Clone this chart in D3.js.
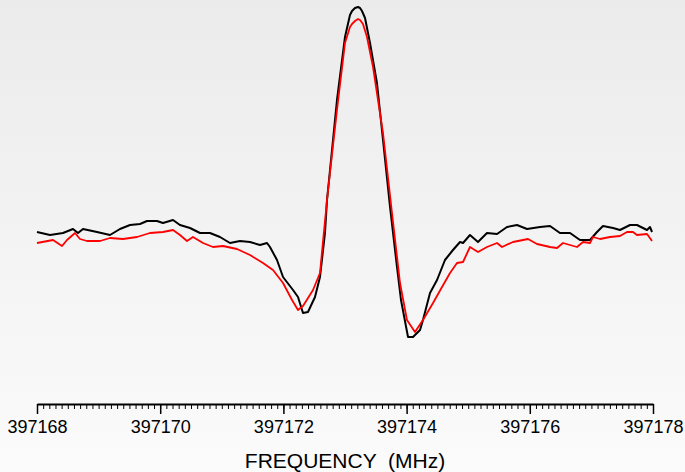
<!DOCTYPE html>
<html>
<head>
<meta charset="utf-8">
<script src="https://cdn.jsdelivr.net/npm/d3@7"></script>
<style>
  html, body { margin: 0; padding: 0; }
  body { width: 685px; height: 472px; overflow: hidden; }
  text { font-family: "Liberation Sans", Arial, sans-serif; }
</style>
</head>
<body>
<div id="chart"></div>
<script>
const width = 685;
const height = 472;

// frequency offsets from 397168 MHz, and intensity (arbitrary units)
const blackFreq = [0.000, 0.211, 0.422, 0.584, 0.666, 0.747, 0.974, 1.185, 1.347, 1.510, 1.672, 1.786, 1.948,
    2.045, 2.208, 2.321, 2.484, 2.646, 2.808, 2.971, 3.133, 3.295, 3.458, 3.620, 3.734, 3.782, 3.896, 3.994,
    4.156, 4.237, 4.318, 4.399, 4.513, 4.594, 4.675, 4.708, 4.870, 5.000, 5.081, 5.114, 5.162, 5.211, 5.244,
    5.276, 5.325, 5.406, 5.519, 5.617, 5.731, 5.844, 5.909, 6.023, 6.104, 6.218, 6.266, 6.380, 6.494, 6.623,
    6.753, 6.867, 6.916, 7.029, 7.159, 7.305, 7.468, 7.630, 7.792, 7.955, 8.166, 8.328, 8.490, 8.653, 8.815,
    8.977, 9.091, 9.188, 9.351, 9.464, 9.627, 9.740, 9.903, 9.951, 9.984];
const blackSignal = [3, 0, 2, 6, 2, 6, 3, 0, 6, 10, 11, 14, 14,
    12, 15, 10, 7, 2, 2, -2, -8, -6, -7, -10, -8, -12, -25, -42,
    -55, -62, -78, -77, -62, -42, 2, 35, 135, 198, 220, 224, 227, 228, 227,
    224, 217, 192, 152, 95, 28, -32, -65, -102, -102, -95, -85, -58, -45, -25,
    -15, -7, -8, 0, -7, 2, 1, 8, 10, 6, 8, 9, 2, 2, -5,
    -5, 3, 9, 7, 5, 10, 10, 5, 8, 3];

const redFreq = [0.000, 0.260, 0.406, 0.487, 0.617, 0.698, 0.812, 1.023, 1.185, 1.396, 1.623, 1.834, 2.045,
    2.208, 2.321, 2.435, 2.532, 2.695, 2.857, 3.019, 3.247, 3.458, 3.669, 3.831, 3.994, 4.140, 4.237, 4.318,
    4.481, 4.594, 4.708, 4.756, 4.870, 5.000, 5.081, 5.114, 5.162, 5.211, 5.244, 5.292, 5.357, 5.455, 5.617,
    5.763, 5.893, 6.006, 6.136, 6.266, 6.429, 6.575, 6.705, 6.818, 6.916, 7.029, 7.159, 7.305, 7.468, 7.549,
    7.727, 7.971, 8.117, 8.328, 8.442, 8.539, 8.766, 8.864, 8.977, 9.026, 9.140, 9.302, 9.464, 9.578, 9.675,
    9.740, 9.903, 9.984];
const redSignal = [-8, -5, -11, -5, 2, -4, -6, -6, -3, -4, -2, 2, 3,
    5, 0, -6, -2, -8, -12, -11, -14, -20, -28, -35, -48, -65, -75, -71,
    -55, -38, 35, 62, 125, 192, 208, 211, 214, 216, 215, 211, 198, 168, 102,
    22, -48, -85, -97, -85, -68, -52, -38, -28, -27, -12, -17, -12, -8, -12,
    -7, -4, -9, -12, -13, -8, -12, -7, -8, -2, -4, -2, -1, 3, 3,
    0, 1, -6];

const freqBase = 397168;
const tickLabels = [397168, 397170, 397172, 397174, 397176, 397178];

const svg = d3.select("#chart")
    .append("svg")
    .attr("width", width)
    .attr("height", height);

// soft grey background, darker at the top
const grad = svg.append("defs").append("linearGradient")
    .attr("id", "bg")
    .attr("x1", 0).attr("y1", 0).attr("x2", 0).attr("y2", 1);
grad.append("stop").attr("offset", "0%").attr("stop-color", "#ebebeb");
grad.append("stop").attr("offset", "100%").attr("stop-color", "#fbfbfb");

svg.append("rect")
    .attr("width", width)
    .attr("height", height)
    .attr("fill", "url(#bg)");

const x = d3.scaleLinear().domain([397168, 397178]).range([37, 653]);
const y = d3.scaleLinear().domain([-240, 240]).range([475, -5]);

const axisY = 404;

// minor ticks every 0.1 MHz
const minor = d3.range(0, 101).map(i => 397168 + i * 0.1);
svg.append("g")
    .attr("transform", `translate(0,${axisY})`)
    .call(d3.axisBottom(x).tickValues(minor).tickSize(5).tickFormat(""))
    .call(g => g.select(".domain").remove())
    .call(g => g.selectAll("line").attr("stroke", "#000").attr("stroke-width", 1));

const axis = svg.append("g")
    .attr("transform", `translate(0,${axisY})`)
    .call(d3.axisBottom(x).tickValues(tickLabels).tickSize(10).tickSizeOuter(0).tickPadding(6)
        .tickFormat(d3.format("d")));

axis.select(".domain").attr("stroke", "#000").attr("stroke-width", 2);
axis.selectAll(".tick line").attr("stroke", "#000").attr("stroke-width", 1.5);
axis.selectAll(".tick text")
    .attr("fill", "#000")
    .style("font-size", "18px")
    .style("font-family", "'Liberation Sans', Arial, sans-serif");

svg.append("text")
    .attr("x", (x.range()[0] + x.range()[1]) / 2)
    .attr("y", 468)
    .attr("text-anchor", "middle")
    .style("font-size", "21px")
    .style("white-space", "pre")
    .attr("fill", "#000")
    .text("FREQUENCY  (MHz)");

const line = d3.line()
    .x(d => x(freqBase + d[0]))
    .y(d => y(d[1]))
    .curve(d3.curveLinear);

svg.append("path")
    .datum(d3.zip(blackFreq, blackSignal))
    .attr("fill", "none")
    .attr("stroke", "#000")
    .attr("stroke-width", 2)
    .attr("stroke-linejoin", "round")
    .attr("d", line);

svg.append("path")
    .datum(d3.zip(redFreq, redSignal))
    .attr("fill", "none")
    .attr("stroke", "#ff0000")
    .attr("stroke-width", 1.8)
    .attr("stroke-linejoin", "round")
    .attr("d", line);
</script>
</body>
</html>
